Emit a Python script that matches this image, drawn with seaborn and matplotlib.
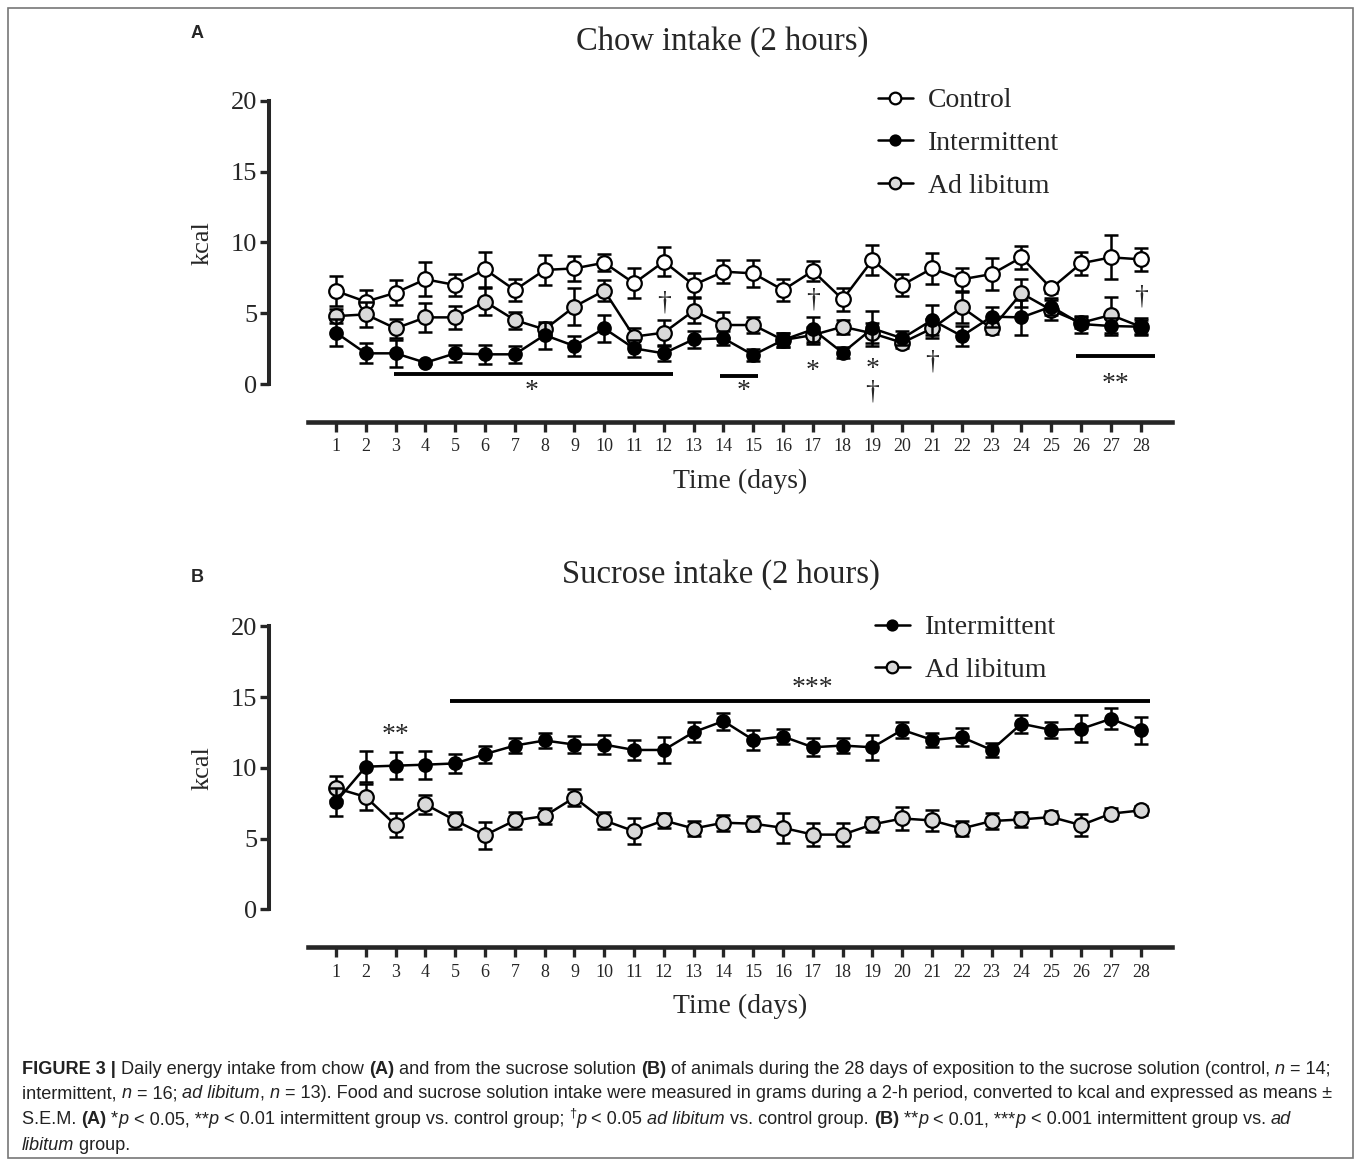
import numpy as np
import pandas as pd
import matplotlib
matplotlib.use("Agg")
import matplotlib.pyplot as plt
import seaborn as sns
from matplotlib import font_manager
from matplotlib.patches import Rectangle

# ---- data (kcal, mean and SEM) ----
days = np.arange(1, 29)

chow_control = [6.57, 5.82, 6.45, 7.40, 7.00, 8.10, 6.64, 8.06, 8.17, 8.57, 7.12, 8.65, 7.00, 7.94,
                7.82, 6.64, 7.99, 5.98, 8.76, 7.00, 8.17, 7.40, 7.77, 8.95, 6.76, 8.53, 8.95, 8.81]
chow_control_sem = [1.05, 0.80, 0.90, 1.20, 0.80, 1.25, 0.80, 1.05, 0.90, 0.60, 1.05, 1.00, 0.85, 0.80,
                    0.95, 0.80, 0.70, 0.80, 1.05, 0.75, 1.10, 0.80, 1.10, 0.80, 0.30, 0.80, 1.55, 0.80]
chow_interm = [3.63, 2.17, 2.17, 1.51, 2.17, 2.10, 2.10, 3.46, 2.69, 3.93, 2.52, 2.17, 3.16, 3.23,
               2.05, 3.11, 3.86, 2.21, 3.93, 3.23, 4.52, 3.39, 4.76, 4.71, 5.47, 4.24, 4.10, 4.05]
chow_interm_sem = [0.95, 0.70, 0.95, 0.10, 0.60, 0.65, 0.60, 0.95, 0.70, 0.95, 0.60, 0.55, 0.60, 0.50,
                   0.40, 0.50, 0.90, 0.40, 1.25, 0.50, 1.05, 0.70, 0.70, 1.25, 0.60, 0.60, 0.60, 0.60]
chow_adlib = [4.80, 4.92, 3.93, 4.71, 4.71, 5.82, 4.52, 3.86, 5.47, 6.60, 3.35, 3.63, 5.18, 4.17,
              4.17, 3.11, 3.46, 4.05, 3.58, 2.92, 3.93, 5.42, 3.93, 6.41, 5.23, 4.33, 4.88, 4.05]
chow_adlib_sem = [0.50, 0.90, 0.70, 1.05, 0.80, 0.95, 0.60, 0.40, 1.30, 0.75, 0.60, 0.90, 0.90, 0.95,
                  0.55, 0.50, 0.60, 0.50, 0.70, 0.40, 0.70, 1.10, 0.40, 1.00, 0.70, 0.40, 1.30, 0.50]

sucrose_interm = [7.60, 10.08, 10.15, 10.22, 10.31, 10.97, 11.57, 11.93, 11.64, 11.64, 11.26, 11.26, 12.52, 13.30,
                  11.97, 12.21, 11.45, 11.57, 11.45, 12.68, 11.97, 12.16, 11.26, 13.11, 12.68, 12.75, 13.46, 12.64]
sucrose_interm_sem = [1.00, 1.10, 0.95, 1.00, 0.70, 0.60, 0.55, 0.50, 0.60, 0.65, 0.70, 0.90, 0.70, 0.60,
                      0.70, 0.50, 0.65, 0.50, 0.90, 0.55, 0.50, 0.65, 0.50, 0.65, 0.55, 0.95, 0.75, 0.95]
sucrose_adlib = [8.56, 7.94, 5.95, 7.42, 6.28, 5.24, 6.28, 6.59, 7.90, 6.28, 5.52, 6.28, 5.71, 6.12,
                 6.05, 5.76, 5.28, 5.28, 6.00, 6.42, 6.28, 5.71, 6.24, 6.35, 6.52, 5.95, 6.76, 6.99]
sucrose_adlib_sem = [0.85, 0.95, 0.85, 0.65, 0.60, 0.95, 0.60, 0.55, 0.60, 0.60, 0.90, 0.55, 0.55, 0.55,
                     0.55, 1.05, 0.80, 0.80, 0.55, 0.80, 0.75, 0.50, 0.55, 0.55, 0.45, 0.80, 0.40, 0.30]

# significance marks: (day_start, day_end, kcal) bars and (day, kcal, symbol) texts
chow_sig_bars = [(2.95, 12.3, 0.68), (13.9, 15.17, 0.59), (25.83, 28.48, 2.0)]
chow_sig_text = [(7.57, -0.55, "*"), (14.67, -0.55, "*"), (12, 5.7, "†"), (17, 5.94, "†"),
                 (17, 0.9, "*"), (19, 1.05, "*"), (19, -0.55, "†"), (21, 1.58, "†"),
                 (27.14, -0.05, "**"), (28, 6.17, "†")]
sucrose_sig_bars = [(4.84, 28.3, 14.7)]
sucrose_sig_text = [(17.0, 15.6, "***"), (2.98, 12.25, "**")]

W, H = 1358, 1163
sns.set_style("ticks")
plt.rcParams["font.family"] = ["Liberation Serif", "DejaVu Serif"]

fig = plt.figure(figsize=(W / 100, H / 100), dpi=100)


def fx(x):
    return x / W


def fy(y):
    return 1 - y / H


GRAY = "#d9d9d9"
styles = {
    "Control": dict(mfc="white", ms=10.5),
    "Intermittent": dict(mfc="black", ms=9.0),
    "Ad libitum": dict(mfc=GRAY, ms=10.5),
}


def panel(ax_rect, series, sig_bars, sig_text):
    ax = fig.add_axes(ax_rect)
    handles = []
    z = 3
    for name, mean, sem in series:
        ax.errorbar(days, mean, yerr=sem, fmt="none", ecolor="black", elinewidth=1.8,
                    capsize=4.7, capthick=1.8, zorder=z)
        df = pd.DataFrame({"day": days, "kcal": mean})
        sns.lineplot(data=df, x="day", y="kcal", ax=ax, color="black", lw=1.8, marker="o",
                     markersize=styles[name]["ms"], markerfacecolor=styles[name]["mfc"],
                     markeredgecolor="black", markeredgewidth=1.6, zorder=z + 1, label=name)
        handles.append(ax.lines[-1])
        z += 2
    ax.set_xlim(0.05, 29.04)
    ax.set_ylim(-2.66, 21.48)
    ax.set_xticks(days)
    ax.set_yticks([0, 5, 10, 15, 20])
    ax.tick_params(axis="x", length=7, width=2.4, labelsize=13, pad=5, direction="out")
    ax.tick_params(axis="y", length=6.5, width=2.4, labelsize=19, pad=2, direction="out")
    for s in ["top", "right"]:
        ax.spines[s].set_visible(False)
    ax.spines["left"].set_position(("outward", 27.7))
    ax.spines["left"].set_bounds(0, 20)
    ax.spines["left"].set_linewidth(2.9)
    ax.spines["bottom"].set_linewidth(3.3)
    ax.set_xlabel("Time (days)", fontsize=20)
    ax.set_ylabel("kcal", fontsize=19)
    ax.xaxis.set_label_coords(0.5, -0.138)
    ax.yaxis.set_label_coords(-0.1085, 0.523)
    for d0, d1, yv in sig_bars:
        ax.plot([d0, d1], [yv, yv], color="black", lw=2.8, solid_capstyle="butt")
    for d, yv, t in sig_text:
        ax.text(d, yv, t, ha="center", va="center", fontsize=20)
    if ax.get_legend() is not None:
        ax.get_legend().remove()
    return ax, handles


ax_w = 864 / W
ax_h = 341.7 / H
axA, hA = panel([fx(307.7), fy(421.7), ax_w, ax_h],
                [("Control", chow_control, chow_control_sem),
                 ("Ad libitum", chow_adlib, chow_adlib_sem),
                 ("Intermittent", chow_interm, chow_interm_sem)],
                chow_sig_bars, chow_sig_text)
axB, hB = panel([fx(307.7), fy(947), ax_w, ax_h],
                [("Ad libitum", sucrose_adlib, sucrose_adlib_sem),
                 ("Intermittent", sucrose_interm, sucrose_interm_sem)],
                sucrose_sig_bars, sucrose_sig_text)

leg_kw = dict(frameon=False, fontsize=20, handlelength=1.25, handletextpad=0.55,
              labelspacing=0.62, borderpad=0, borderaxespad=0, markerscale=0.8,
              loc="upper left", bbox_transform=fig.transFigure)
byA = {h.get_label(): h for h in hA}
axA.legend([byA[k] for k in ["Control", "Intermittent", "Ad libitum"]],
           ["Control", "Intermittent", "Ad libitum"],
           bbox_to_anchor=(fx(878), fy(88)), **leg_kw)
byB = {h.get_label(): h for h in hB}
axB.legend([byB[k] for k in ["Intermittent", "Ad libitum"]], ["Intermittent", "Ad libitum"],
           bbox_to_anchor=(fx(875), fy(615)), **leg_kw)

fig.text(fx(722), fy(42), "Chow intake (2 hours)", ha="center", va="center", fontsize=23.5)
fig.text(fx(721), fy(575), "Sucrose intake (2 hours)", ha="center", va="center", fontsize=23.5)
fig.text(fx(197), fy(34), "A", ha="center", va="center", fontsize=13, fontweight="bold",
         family="Liberation Sans")
fig.text(fx(197), fy(577), "B", ha="center", va="center", fontsize=13, fontweight="bold",
         family="Liberation Sans")

# outer frame
fig.add_artist(Rectangle((fx(8), fy(1158)), fx(1353) - fx(8), fy(8) - fy(1158),
                         transform=fig.transFigure, fill=False, edgecolor="#777777", lw=1.2))

# ---- caption ----
cap_family = "Liberation Sans"
try:
    font_manager.findfont("Liberation Sans Narrow", fallback_to_default=False)
    cap_family = "Liberation Sans Narrow"
except Exception:
    pass

renderer = fig.canvas.get_renderer()
CAP_COLOR = "#222222"


def style_kw(st, size):
    kw = dict(fontsize=size, family=cap_family, color=CAP_COLOR)
    if st == "b":
        kw["fontweight"] = "bold"
    if st == "i":
        kw["fontstyle"] = "italic"
    if st == "sup":
        kw["fontsize"] = size * 0.7
    return kw


def run_width(text, st, size):
    t1 = fig.text(0, 0, "|" + text + "|", **style_kw(st, size))
    t2 = fig.text(0, 0, "||", **style_kw(st, size))
    w = t1.get_window_extent(renderer).width - t2.get_window_extent(renderer).width
    t1.remove()
    t2.remove()
    return w


def draw_runs(x, y, runs, size):
    for text, st in runs:
        yy = y - 6 if st == "sup" else y
        fig.text(fx(x), fy(yy), text, ha="left", va="center", **style_kw(st, size))
        x += run_width(text, st, size)


cap_lines = [
    [("FIGURE 3 |", "b"), (" Daily energy intake from chow ", "n"), ("(A)", "b"),
     (" and from the sucrose solution ", "n"), ("(B)", "b"),
     (" of animals during the 28 days of exposition to the sucrose solution (control, ", "n"),
     ("n", "i"), (" = 14;", "n")],
    [("intermittent, ", "n"), ("n", "i"), (" = 16; ", "n"), ("ad libitum", "i"), (", ", "n"),
     ("n", "i"),
     (" = 13). Food and sucrose solution intake were measured in grams during a 2-h period, "
      "converted to kcal and expressed as means ±", "n")],
    [("S.E.M. ", "n"), ("(A)", "b"), (" *", "n"), ("p", "i"), (" < 0.05, **", "n"), ("p", "i"),
     (" < 0.01 intermittent group vs. control group; ", "n"), ("†", "sup"), ("p", "i"),
     (" < 0.05 ", "n"), ("ad libitum", "i"), (" vs. control group. ", "n"), ("(B)", "b"),
     (" **", "n"), ("p", "i"), (" < 0.01, ***", "n"), ("p", "i"),
     (" < 0.001 intermittent group vs. ", "n"), ("ad", "i")],
    [("libitum", "i"), (" group.", "n")],
]
base = 12
w1 = sum(run_width(t, s, base) for t, s in cap_lines[0])
cap_size = base * (1313 / w1)
for (ly, runs) in zip([1069, 1094, 1120, 1145], cap_lines):
    draw_runs(22, ly, runs, cap_size)

fig.savefig("out.png", dpi=100)
